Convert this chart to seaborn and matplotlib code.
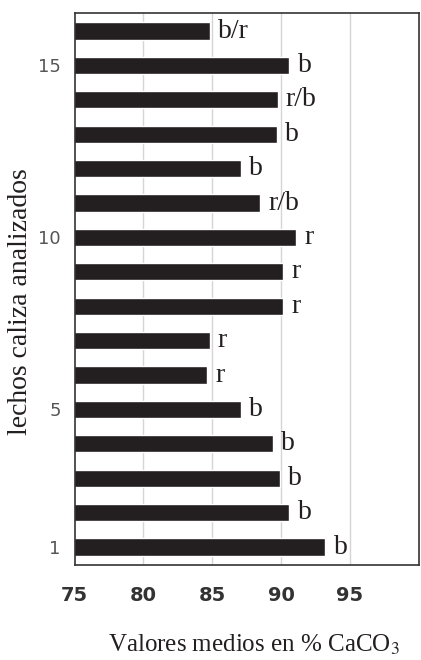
import numpy as np
import pandas as pd
import matplotlib
matplotlib.use("Agg")
import matplotlib.pyplot as plt
import seaborn as sns

# lechos 1..16 (bottom to top)
lechos = list(range(1, 17))
caco3 = [93.2, 90.6, 89.9, 89.4, 87.1, 84.6, 84.8, 90.15,
         90.15, 91.1, 88.5, 87.1, 89.7, 89.75, 90.6, 84.8]
tipo = ['b', 'b', 'b', 'b', 'b', 'r', 'r', 'r',
        'r', 'r', 'r/b', 'b', 'b', 'r/b', 'b', 'b/r']
xticks = [75, 80, 85, 90, 95]
yticks = [1, 5, 10, 15]

df = pd.DataFrame({'lecho': lechos, 'caco3': caco3, 'tipo': tipo})

sns.set_style("white")
plt.rcParams['mathtext.fontset'] = 'stix'

fig = plt.figure(figsize=(4.21, 6.6), dpi=100)
ax = fig.add_axes([0.177, 0.144, 0.818, 0.836])

sns.barplot(data=df, x='caco3', y='lecho', orient='y', native_scale=True,
            color='#231f20', width=0.5, saturation=1, ax=ax)

for v, y, t in zip(df['caco3'], df['lecho'], df['tipo']):
    ax.text(v + 0.6, y, t, ha='left', va='center', fontsize=20,
            family='Liberation Serif', color='#231f20')

ax.set_xlim(75, 100)
ax.set_ylim(0.48, 16.52)
ax.set_xticks(xticks + [100])
ax.set_xticklabels([str(x) for x in xticks] + [''], fontsize=14,
                   fontweight='bold', color='#333333', family='DejaVu Sans')
ax.set_yticks(yticks)
ax.set_yticklabels([str(y) for y in yticks], fontsize=13, color='#555555',
                   family='DejaVu Sans')

for g in xticks[1:]:
    ax.axvline(g, color='#d5d5d5', lw=1, zorder=0)

ax.tick_params(axis='x', direction='out', length=5, width=1, color='#333333', pad=10)
ax.tick_params(axis='y', length=0, pad=10)
for s in ax.spines.values():
    s.set_color('#333333')
    s.set_linewidth(1.2)

ax.set_xlabel('Valores medios en % CaCO$_3$', fontsize=18,
              family='Liberation Serif', color='#231f20')
ax.set_ylabel('lechos caliza analizados', fontsize=20,
              family='Liberation Serif', color='#231f20')
ax.xaxis.set_label_coords(0.52, -0.123)
ax.yaxis.set_label_coords(-0.12, 0.478)

fig.savefig('out.png', dpi=100)
